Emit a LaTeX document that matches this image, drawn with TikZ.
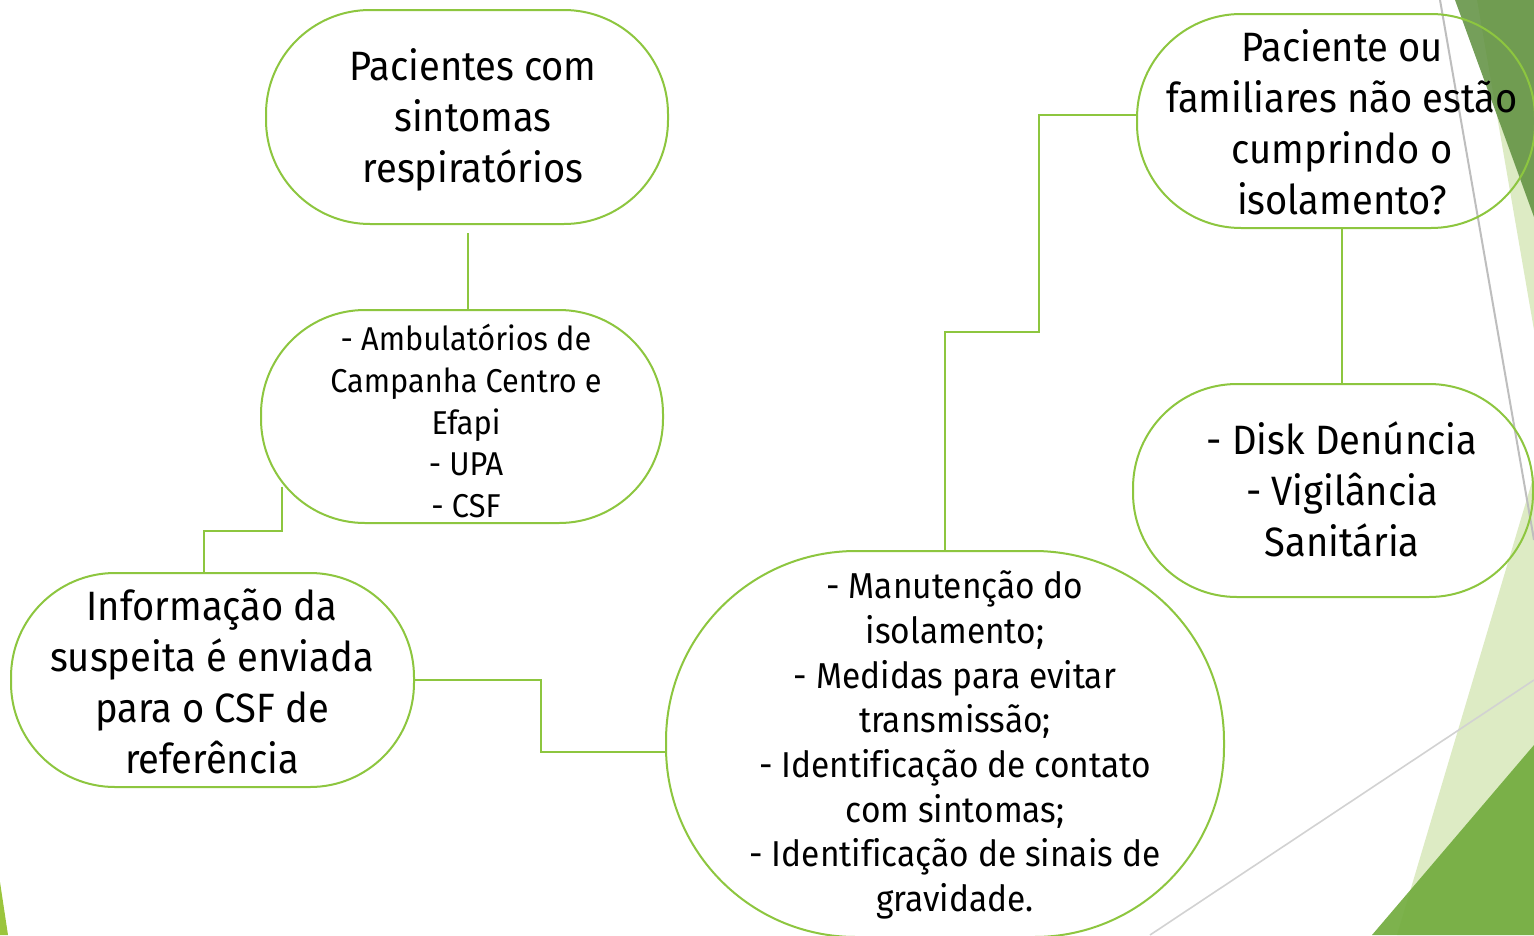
\documentclass[tikz,border=0pt]{standalone}
\usepackage{fontspec}
\setmainfont[FakeStretch=0.93, Ligatures=NoCommon]{Fira Sans}
\usetikzlibrary{calc}
\definecolor{boxline}{HTML}{8DC63F}
\definecolor{lightg}{HTML}{DDEBC4}
\definecolor{darkg}{HTML}{5E8F3E}
\definecolor{midg}{HTML}{72AC3E}
\definecolor{sliver}{HTML}{9BC53D}
\definecolor{greyline}{HTML}{BEBEBE}
\definecolor{greyline2}{HTML}{D2D2D2}
\tikzset{
  roundbox/.style={draw=boxline, line width=2pt, rectangle, inner sep=0pt},
  txtbig/.style={align=center, inner sep=0pt, font=\fontsize{41}{51}\selectfont},
  txtmid/.style={align=center, inner sep=0pt, font=\fontsize{36}{44.7}\selectfont},
  txtsmall/.style={align=center, inner sep=0pt, font=\fontsize{33}{41.7}\selectfont},
  conn/.style={draw=boxline, line width=2pt},
}
\begin{document}
\begin{tikzpicture}[x=1pt,y=-1pt]
\useasboundingbox (0,0) rectangle (1534,935);
\fill[white] (0,0) rectangle (1534,935);
% background decorations
\fill[lightg] (1477,0) -- (1534,0) -- (1534,330) -- cycle;
\fill[lightg] (1397,935) -- (1534,475) -- (1534,935) -- cycle;
\fill[darkg, fill opacity=0.85] (1455,0) -- (1534,0) -- (1534,217) -- cycle;
\fill[midg, fill opacity=0.92] (1372,935) -- (1534,745) -- (1534,935) -- cycle;
\fill[sliver] (0,882) -- (8,935) -- (0,935) -- cycle;
\draw[greyline, line width=2pt] (1440,0) -- (1534,540);
\draw[greyline2, line width=1.6pt] (1150,935) -- (1534,680);
% boxes
\node[roundbox, minimum width=402pt, minimum height=214pt, rounded corners=104pt] (b1) at (467,117) {};
\node[txtbig] (t1) at (473,120) {Pacientes com\\sintomas\\respiratórios};
\node[roundbox, minimum width=402pt, minimum height=213pt, rounded corners=104pt] (b2) at (462,416.5) {};
\node[txtsmall] (t2) at (466,421) {- Ambulatórios de\\Campanha Centro e\\Efapi\\- UPA\\- CSF};
\node[roundbox, minimum width=403pt, minimum height=214pt, rounded corners=104pt] (b3) at (212.5,680) {};
\node[txtbig] (t3) at (212,681) {Informação da\\suspeita é enviada\\para o CSF de\\referência};
\node[roundbox, minimum width=558pt, minimum height=386pt, rounded corners=190pt] (b4) at (945,744) {};
\node[txtmid] (t4) at (955,745) {- Manutenção do\\isolamento;\\- Medidas para evitar\\transmissão;\\- Identificação de contato\\com sintomas;\\- Identificação de sinais de\\gravidade.};
\node[roundbox, minimum width=398pt, minimum height=214pt, rounded corners=104pt] (b5) at (1336,121) {};
\node[txtbig] (t5) at (1342,122) {Paciente ou\\familiares não estão\\cumprindo o\\isolamento?};
\node[roundbox, minimum width=400pt, minimum height=213pt, rounded corners=104pt] (b6) at (1333,490.5) {};
\node[txtbig] (t6) at (1342,489) {- Disk Denúncia\\- Vigilância\\Sanitária};
% connectors
\draw[conn] ([shift={(1,8)}]b1.south) -- ([xshift=1pt]b1.south |- b2.north);
\draw[conn] ([shift={(-180,70)}]b2.center) -- ++(0,44) -| ([xshift=-9pt]b3.north);
\draw[conn] (b3.east) -- ++(126,0) |- ([yshift=-8pt]b4.west);
\draw[conn] (b4.north) |- (1039,332) |- ([yshift=6pt]b5.west);
\draw[conn] ([xshift=6pt]b5.south) -- ([xshift=6pt]b5.south |- b6.north);
\end{tikzpicture}
\end{document}
